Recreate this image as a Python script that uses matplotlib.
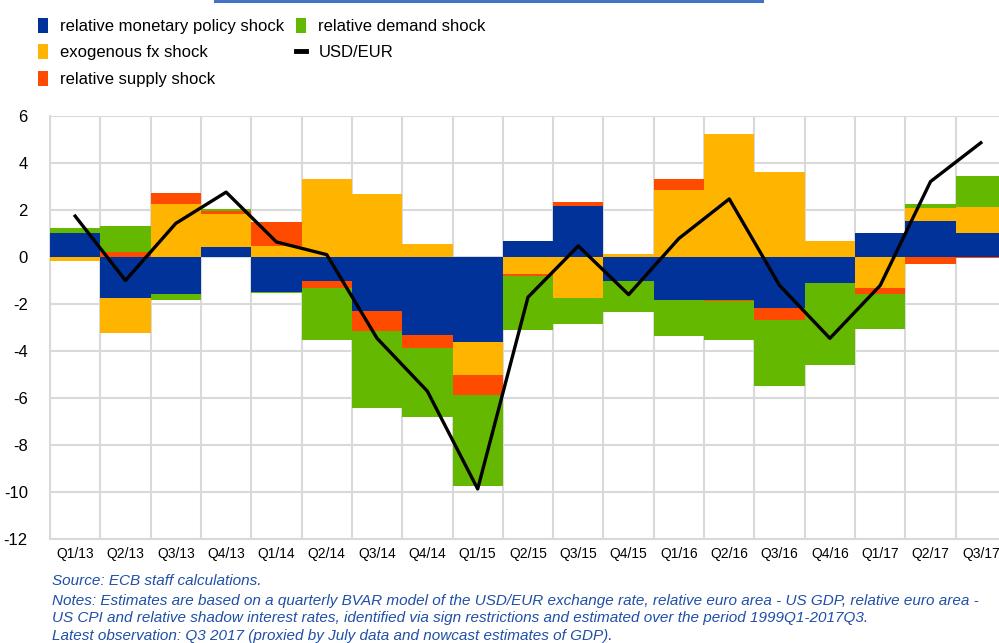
import numpy as np
import matplotlib
matplotlib.use("Agg")
import matplotlib.pyplot as plt
from matplotlib.patches import Patch
from matplotlib.lines import Line2D

plt.rcParams["axes.unicode_minus"] = False

quarters = ["Q1/13", "Q2/13", "Q3/13", "Q4/13", "Q1/14", "Q2/14", "Q3/14", "Q4/14",
            "Q1/15", "Q2/15", "Q3/15", "Q4/15", "Q1/16", "Q2/16", "Q3/16", "Q4/16",
            "Q1/17", "Q2/17", "Q3/17"]
monetary = [1.04, -1.75, -1.57, 0.43, -1.47, -1.04, -2.31, -3.33, -3.61, 0.69,
            2.17, -1.01, -1.81, -1.81, -2.19, -1.11, 1.04, 1.54, 1.04]
fx = [-0.18, -1.50, 2.26, 1.40, 0.47, 3.31, 2.67, 0.54, -1.41, -0.71,
      -1.74, 0.14, 2.83, 5.24, 3.61, 0.67, -1.33, 0.53, 1.10]
supply = [0.0, 0.20, 0.46, 0.14, 1.00, -0.29, -0.83, -0.56, -0.86, -0.10,
          0.17, 0.0, 0.50, -0.07, -0.49, 0.0, -0.24, -0.31, -0.03]
demand = [0.20, 1.13, -0.24, 0.07, -0.06, -2.20, -3.30, -2.93, -3.86, -2.30,
          -1.11, -1.31, -1.56, -1.64, -2.79, -3.49, -1.50, 0.20, 1.29]
usd_eur = [1.74, -1.00, 1.43, 2.76, 0.64, 0.10, -3.46, -5.71, -9.87, -1.71,
           0.47, -1.60, 0.79, 2.47, -1.21, -3.46, -1.21, 3.21, 4.86]

series = [
    ("relative monetary policy shock", monetary, "#003299"),
    ("exogenous fx shock", fx, "#FFB400"),
    ("relative supply shock", supply, "#FF4B00"),
    ("relative demand shock", demand, "#65B800"),
]

W, H = 999, 643
fig = plt.figure(figsize=(W / 100, H / 100), dpi=100)
ax = fig.add_axes([50 / W, 1 - 539 / H, 956 / W, 423 / H])

x = np.arange(len(quarters))
pos = np.zeros(len(x))
neg = np.zeros(len(x))
handles = []
for name, vals, col in series:
    v = np.array(vals)
    bottom = np.where(v >= 0, pos, neg)
    ax.bar(x, v, width=1.0, bottom=bottom, color=col, linewidth=0, zorder=3)
    pos = pos + np.where(v >= 0, v, 0)
    neg = neg + np.where(v < 0, v, 0)
    handles.append(Patch(facecolor=col, edgecolor="none", label=name))

ax.plot(x, usd_eur, color="black", lw=2.4, zorder=5)
handles.append(Line2D([], [], color="black", lw=3.5, label="USD/EUR"))

ax.set_xlim(-0.5, len(x) - 0.5)
ax.set_ylim(-12, 6)
ax.set_yticks(np.arange(-12, 7, 2))
ax.set_xticks(x)
ax.set_xticklabels(quarters, family="Liberation Sans", fontsize=10)
ax.set_xticks(np.arange(-0.5, len(x), 1.0), minor=True)
ax.tick_params(axis="both", which="both", length=0)
ax.tick_params(axis="x", pad=6)
ax.tick_params(axis="y", pad=16)
for lab in ax.get_yticklabels():
    lab.set_fontsize(12)
    lab.set_family("Liberation Sans")
ax.grid(axis="y", which="major", color="#D9D9D9", lw=1.5, zorder=0)
ax.grid(axis="x", which="minor", color="#D9D9D9", lw=1.5, zorder=0)
ax.grid(axis="x", which="major", visible=False)
ax.set_axisbelow(True)
for s in ax.spines.values():
    s.set_color("#D9D9D9")
    s.set_linewidth(1.5)
ax.spines["top"].set_visible(False)
ax.spines["right"].set_visible(False)

leg = fig.legend(handles=handles,
                 labels=[h.get_label() for h in handles],
                 ncol=2, loc="upper left", bbox_to_anchor=(31 / W, 1 - 11 / H),
                 frameon=False, prop={"family": "Liberation Sans", "size": 12},
                 handlelength=0.6, handleheight=1.0, handletextpad=0.75,
                 labelspacing=0.62, columnspacing=0.7, borderaxespad=0)

# header rule at top
fig.add_artist(Line2D([215 / W, 762 / W], [1 - 1 / H, 1 - 1 / H], color="#4472C4", lw=2.2))

notes = [
    "Source: ECB staff calculations.",
    "Notes: Estimates are based on a quarterly BVAR model of the USD/EUR exchange rate, relative euro area - US GDP, relative euro area -",
    "US CPI and relative shadow interest rates, identified via sign restrictions and estimated over the period 1999Q1-2017Q3.",
    "Latest observation: Q3 2017 (proxied by July data and nowcast estimates of GDP).",
]
ys = [581, 601, 618, 636]
for t, yy in zip(notes, ys):
    fig.text(52 / W, 1 - yy / H, t, color="#1F4FA8", style="italic",
             family="Liberation Sans", fontsize=11,
             va="center", ha="left")

fig.savefig("out.png", dpi=100)
